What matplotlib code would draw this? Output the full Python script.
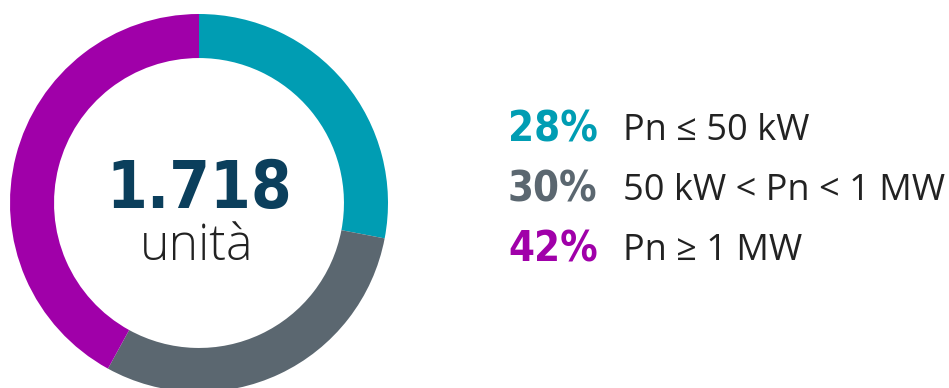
import matplotlib.pyplot as plt

shares = [28, 30, 42]
labels = ["Pn ≤ 50 kW", "50 kW < Pn < 1 MW", "Pn ≥ 1 MW"]
colors = ["#009db3", "#5b6770", "#a000a9"]
total = "1.718"
unit = "unità"

W, H = 949, 388
fig = plt.figure(figsize=(W / 100, H / 100), dpi=100)

# donut: centre (199, 203) px, radius 189 px
cx, cy, R = 199, 203, 189
ax = fig.add_axes([(cx - R) / W, (H - cy - R) / H, 2 * R / W, 2 * R / H])
ax.pie(shares, colors=colors, startangle=90, counterclock=False,
       radius=1, wedgeprops=dict(width=0.233, edgecolor="none"))
ax.set_xlim(-1, 1)
ax.set_ylim(-1, 1)
ax.set_aspect("equal")
ax.axis("off")

def px(x, y):
    return x / W, 1 - y / H

fig.text(*px(cx, 190), total, ha="center", va="center", fontsize=47,
         fontweight="heavy", fontstretch="condensed", color="#0b3f5c",
         family="DejaVu Sans")
fig.text(*px(197, 247), unit, ha="center", va="center", fontsize=36,
         fontweight="light", color="#222222", family="Open Sans")

rows_y = [130, 190, 250]
for s, lab, c, y in zip(shares, labels, colors, rows_y):
    fig.text(*px(508, y - 1), f"{s}%", ha="left", va="center", fontsize=30,
             fontweight="heavy", fontstretch="condensed", color=c,
             family="DejaVu Sans")
    fig.text(*px(623, y + 1), lab, ha="left", va="center", fontsize=26,
             color="#222222", family="Open Sans")

fig.savefig("out.png", dpi=100)
